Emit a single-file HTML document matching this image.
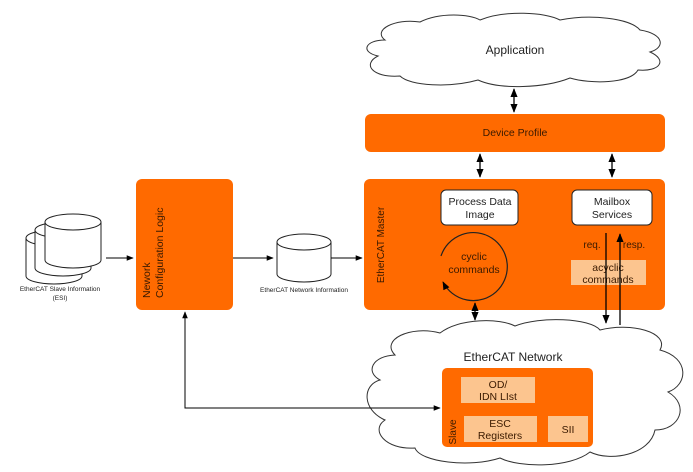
<!DOCTYPE html>
<html><head><meta charset="utf-8"><style>
html,body{margin:0;padding:0;background:#fff}
svg{display:block}
text{font-family:"Liberation Sans",Arial,sans-serif}
</style></head><body>
<svg width="693" height="472" viewBox="0 0 693 472" xmlns="http://www.w3.org/2000/svg">
<defs>
<marker id="a" viewBox="0 0 10 10" refX="9" refY="5" markerWidth="7" markerHeight="7" orient="auto-start-reverse"><path d="M0,1 L10,5 L0,9 z" fill="#000"/></marker>
</defs>
<!-- Application cloud -->
<path d="M385,40 C372,30 395,18 420,22 C440,12 470,14 480,20 C505,10 545,12 560,20 C590,14 630,18 640,30 C665,34 665,48 650,52 C668,60 660,72 638,70 C630,84 590,84 570,78 C545,88 500,90 478,80 C450,88 410,86 400,76 C372,78 362,64 378,56 C360,52 365,40 385,40 Z" fill="#fff" stroke="#333" stroke-width="1"/>
<text x="515" y="54" font-size="12" text-anchor="middle" fill="#222">Application</text>
<line x1="514" y1="89" x2="514" y2="112" stroke="#000" stroke-width="1.3" marker-start="url(#a)" marker-end="url(#a)"/>
<!-- Device profile -->
<rect x="365" y="114" width="300" height="38" rx="6" fill="#ff6a00"/>
<text x="515" y="136" font-size="10.5" text-anchor="middle" fill="#3a1a00">Device Profile</text>
<line x1="480" y1="154" x2="480" y2="177" stroke="#000" stroke-width="1.3" marker-start="url(#a)" marker-end="url(#a)"/>
<line x1="612" y1="154" x2="612" y2="177" stroke="#000" stroke-width="1.3" marker-start="url(#a)" marker-end="url(#a)"/>
<!-- Master -->
<rect x="364" y="179" width="301" height="131" rx="6" fill="#ff6a00"/>
<text transform="translate(384,245) rotate(-90)" font-size="10" text-anchor="middle" fill="#3a1a00">EtherCAT Master</text>
<rect x="441" y="190" width="77" height="35" rx="5" fill="#fff" stroke="#222"/>
<text x="480" y="205" font-size="10.5" text-anchor="middle" fill="#222">Process Data</text>
<text x="480" y="218" font-size="10.5" text-anchor="middle" fill="#222">Image</text>
<rect x="572" y="190" width="80" height="35" rx="5" fill="#fff" stroke="#222"/>
<text x="612" y="205" font-size="10.5" text-anchor="middle" fill="#222">Mailbox</text>
<text x="612" y="218" font-size="10.5" text-anchor="middle" fill="#222">Services</text>
<path d="M441,256 A34,34 0 1 1 443,282" fill="none" stroke="#222" stroke-width="1.2" marker-end="url(#a)"/>
<text x="474" y="260" font-size="10.5" text-anchor="middle" fill="#3a1a00">cyclic</text>
<text x="474" y="273" font-size="10.5" text-anchor="middle" fill="#3a1a00">commands</text>
<text x="592" y="248" font-size="10" text-anchor="middle" fill="#3a1a00">req.</text>
<text x="634" y="248" font-size="10" text-anchor="middle" fill="#3a1a00">resp.</text>
<rect x="571" y="260" width="75" height="25" fill="#fcc58f"/>
<text x="608" y="271" font-size="10.5" text-anchor="middle" fill="#3a1a00">acyclic</text>
<text x="608" y="283" font-size="10.5" text-anchor="middle" fill="#3a1a00">commands</text>
<line x1="606" y1="233" x2="606" y2="323" stroke="#000" stroke-width="1.3" marker-end="url(#a)"/>
<line x1="620" y1="325" x2="620" y2="234" stroke="#000" stroke-width="1.3" marker-end="url(#a)"/>
<line x1="475" y1="303" x2="475" y2="320" stroke="#000" stroke-width="1.3" marker-start="url(#a)" marker-end="url(#a)"/>
<!-- Network cloud -->
<path d="M395,355 C380,340 410,325 440,333 C460,318 500,318 515,326 C540,316 590,318 600,330 C630,322 670,332 660,350 C690,358 688,385 668,392 C690,405 680,430 655,430 C650,455 610,462 590,452 C570,468 520,468 500,458 C470,468 420,462 415,448 C385,450 370,430 385,420 C362,410 362,385 380,380 C365,372 372,356 395,355 Z" fill="#fff" stroke="#333" stroke-width="1"/>
<text x="513" y="361" font-size="12" text-anchor="middle" fill="#222">EtherCAT Network</text>
<rect x="442" y="368" width="151" height="79" rx="5" fill="#ff6a00"/>
<rect x="461" y="377" width="74" height="26" fill="#fcc58f"/>
<text x="498" y="388" font-size="10.5" text-anchor="middle" fill="#3a1a00">OD/</text>
<text x="498" y="400" font-size="10.5" text-anchor="middle" fill="#3a1a00">IDN LIst</text>
<rect x="464" y="416" width="73" height="26" fill="#fcc58f"/>
<text x="500" y="427" font-size="10.5" text-anchor="middle" fill="#3a1a00">ESC</text>
<text x="500" y="439" font-size="10.5" text-anchor="middle" fill="#3a1a00">Registers</text>
<rect x="548" y="416" width="40" height="26" fill="#fcc58f"/>
<text x="568" y="433" font-size="10.5" text-anchor="middle" fill="#3a1a00">SII</text>
<text transform="translate(456,432) rotate(-90)" font-size="10" text-anchor="middle" fill="#3a1a00">Slave</text>
<!-- Config logic -->
<rect x="136" y="179" width="97" height="131" rx="6" fill="#ff6a00"/>
<text transform="translate(150,298) rotate(-90)" font-size="10.5" fill="#3a1a00">Nework</text>
<text transform="translate(163,298) rotate(-90)" font-size="10.5" fill="#3a1a00">Configuration Logic</text>
<polyline points="185,313 185,408 440,408" fill="none" stroke="#000" stroke-width="1" marker-end="url(#a)"/>
<line x1="185" y1="330" x2="185" y2="312" stroke="#000" stroke-width="1" marker-end="url(#a)"/>
<!-- ESI cylinders -->
<g fill="#fff" stroke="#222" stroke-width="1">
<path d="M26,238 v38 a28,8 0 0 0 56,0 v-38"/><ellipse cx="54" cy="238" rx="28" ry="8"/>
<path d="M35,230 v38 a28,8 0 0 0 56,0 v-38"/><ellipse cx="63" cy="230" rx="28" ry="8"/>
<path d="M45,222 v38 a28,8 0 0 0 56,0 v-38"/><ellipse cx="73" cy="222" rx="28" ry="8"/>
</g>
<text x="60" y="291" font-size="6.5" text-anchor="middle" fill="#222">EtherCAT Slave Information</text>
<text x="60" y="300" font-size="6.5" text-anchor="middle" fill="#222">(ESI)</text>
<line x1="106" y1="258" x2="133" y2="258" stroke="#000" stroke-width="1" marker-end="url(#a)"/>
<line x1="233" y1="258" x2="273" y2="258" stroke="#000" stroke-width="1" marker-end="url(#a)"/>
<g fill="#fff" stroke="#222" stroke-width="1">
<path d="M277,242 v32 a27,8 0 0 0 54,0 v-32"/><ellipse cx="304" cy="242" rx="27" ry="8"/>
</g>
<text x="304" y="292" font-size="6.5" text-anchor="middle" fill="#222">EtherCAT Network Information</text>
<line x1="331" y1="258" x2="362" y2="258" stroke="#000" stroke-width="1" marker-end="url(#a)"/>
</svg>
</body></html>
